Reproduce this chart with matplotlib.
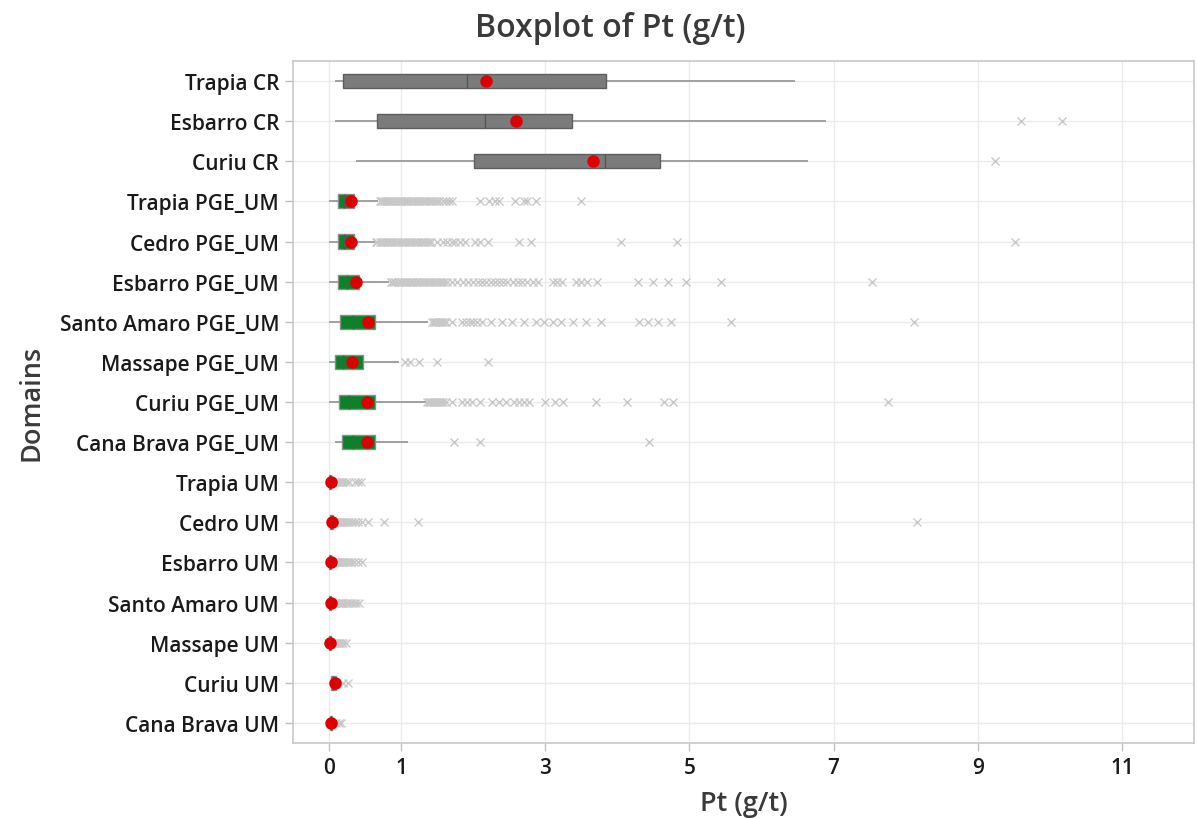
import matplotlib
matplotlib.use("Agg")
import matplotlib.pyplot as plt

plt.rcParams["font.family"] = ["Open Sans", "DejaVu Sans"]

domains = [
    "Trapia CR", "Esbarro CR", "Curiu CR",
    "Trapia PGE_UM", "Cedro PGE_UM", "Esbarro PGE_UM", "Santo Amaro PGE_UM",
    "Massape PGE_UM", "Curiu PGE_UM", "Cana Brava PGE_UM",
    "Trapia UM", "Cedro UM", "Esbarro UM", "Santo Amaro UM",
    "Massape UM", "Curiu UM", "Cana Brava UM",
]

# Five-number summaries and means, Pt (g/t)
whisker_low = [0.10, 0.10, 0.39, 0.01, 0.01, 0.01, 0.01, 0.01, 0.01, 0.09,
               0.00, 0.00, 0.00, 0.00, 0.00, 0.02, 0.00]
q1 = [0.20, 0.67, 2.01, 0.12, 0.13, 0.13, 0.15, 0.08, 0.14, 0.18,
      0.00, 0.01, 0.00, 0.00, 0.00, 0.03, 0.01]
median = [1.91, 2.17, 3.83, 0.21, 0.21, 0.25, 0.33, 0.20, 0.28, 0.33,
          0.01, 0.02, 0.01, 0.01, 0.01, 0.06, 0.02]
q3 = [3.84, 3.37, 4.59, 0.35, 0.34, 0.42, 0.64, 0.47, 0.64, 0.64,
      0.03, 0.05, 0.03, 0.03, 0.02, 0.10, 0.04]
whisker_high = [6.45, 6.88, 6.63, 0.67, 0.62, 0.82, 1.36, 0.96, 1.34, 1.08,
                0.07, 0.09, 0.06, 0.06, 0.05, 0.16, 0.08]
mean = [2.18, 2.60, 3.66, 0.30, 0.31, 0.37, 0.54, 0.32, 0.52, 0.52,
        0.02, 0.04, 0.03, 0.03, 0.01, 0.08, 0.03]

outliers_trapia_cr = []
outliers_esbarro_cr = [9.60, 10.17]
outliers_curiu_cr = [9.24]
outliers_trapia_pge = [0.70, 0.72, 0.74, 0.76, 0.78, 0.80, 0.83, 0.85, 0.88, 0.90,
                       0.93, 0.95, 0.98, 1.00, 1.03, 1.05, 1.08, 1.10, 1.13, 1.15,
                       1.18, 1.20, 1.23, 1.26, 1.29, 1.32, 1.35, 1.38, 1.41, 1.44,
                       1.47, 1.50, 1.53, 1.58, 1.62, 1.66, 1.70, 2.10, 2.22, 2.30,
                       2.36, 2.58, 2.70, 2.74, 2.87, 3.50]
outliers_cedro_pge = [0.65, 0.67, 0.70, 0.72, 0.75, 0.77, 0.80, 0.82, 0.85, 0.88,
                      0.91, 0.94, 0.97, 1.00, 1.03, 1.06, 1.09, 1.12, 1.15, 1.18,
                      1.21, 1.24, 1.27, 1.30, 1.33, 1.36, 1.39, 1.42, 1.50, 1.58,
                      1.64, 1.70, 1.75, 1.82, 1.88, 2.02, 2.10, 2.20, 2.64, 2.80,
                      4.05, 4.83, 9.51]
outliers_esbarro_pge = [0.86, 0.88, 0.90, 0.92, 0.95, 0.97, 1.00, 1.02, 1.05, 1.07,
                        1.10, 1.12, 1.15, 1.17, 1.20, 1.22, 1.25, 1.27, 1.30, 1.33,
                        1.36, 1.39, 1.42, 1.45, 1.48, 1.51, 1.54, 1.57, 1.60, 1.63,
                        1.70, 1.78, 1.86, 1.93, 2.00, 2.06, 2.12, 2.18, 2.25, 2.30,
                        2.36, 2.42, 2.47, 2.55, 2.62, 2.68, 2.75, 2.83, 2.90, 3.10,
                        3.16, 3.23, 3.42, 3.49, 3.58, 3.72, 4.28, 4.50, 4.70, 4.95,
                        5.44, 7.53]
outliers_santo_amaro_pge = [1.43, 1.45, 1.47, 1.49, 1.51, 1.53, 1.55, 1.57, 1.60, 1.62,
                            1.71, 1.85, 1.90, 1.95, 2.00, 2.05, 2.12, 2.24, 2.40, 2.54,
                            2.71, 2.87, 2.98, 3.10, 3.22, 3.38, 3.56, 3.77, 4.30, 4.42,
                            4.56, 4.74, 5.58, 8.12]
outliers_massape_pge = [1.06, 1.12, 1.25, 1.50, 2.20]
outliers_curiu_pge = [1.36, 1.38, 1.40, 1.42, 1.44, 1.46, 1.48, 1.50, 1.52, 1.55,
                      1.58, 1.62, 1.71, 1.85, 1.92, 1.98, 2.10, 2.26, 2.36, 2.45,
                      2.57, 2.64, 2.71, 2.78, 3.00, 3.13, 3.24, 3.70, 4.13, 4.65,
                      4.77, 7.76]
outliers_cana_brava_pge = [1.73, 2.10, 4.44]
outliers_trapia_um = [0.10, 0.12, 0.14, 0.16, 0.18, 0.20, 0.23, 0.27, 0.36, 0.40, 0.44]
outliers_cedro_um = [0.10, 0.12, 0.14, 0.16, 0.18, 0.20, 0.22, 0.25, 0.28, 0.32,
                     0.36, 0.40, 0.46, 0.54, 0.76, 1.23, 8.16]
outliers_esbarro_um = [0.08, 0.10, 0.12, 0.14, 0.16, 0.18, 0.20, 0.22, 0.25, 0.28,
                       0.31, 0.35, 0.40, 0.45]
outliers_santo_amaro_um = [0.08, 0.10, 0.12, 0.14, 0.16, 0.18, 0.20, 0.23, 0.26, 0.30,
                           0.34, 0.38, 0.42]
outliers_massape_um = [0.06, 0.08, 0.10, 0.12, 0.14, 0.17, 0.20, 0.23]
outliers_curiu_um = [0.20, 0.26]
outliers_cana_brava_um = [0.10, 0.14, 0.17]

outliers = [
    outliers_trapia_cr, outliers_esbarro_cr, outliers_curiu_cr,
    outliers_trapia_pge, outliers_cedro_pge, outliers_esbarro_pge,
    outliers_santo_amaro_pge, outliers_massape_pge, outliers_curiu_pge,
    outliers_cana_brava_pge,
    outliers_trapia_um, outliers_cedro_um, outliers_esbarro_um,
    outliers_santo_amaro_um, outliers_massape_um, outliers_curiu_um,
    outliers_cana_brava_um,
]

x_ticks = [0, 1, 3, 5, 7, 9, 11]

stats = []
for i, name in enumerate(domains):
    stats.append(dict(label=name, whislo=whisker_low[i], q1=q1[i], med=median[i],
                      q3=q3[i], whishi=whisker_high[i], mean=mean[i],
                      fliers=outliers[i]))

n = len(domains)
positions = list(range(n, 0, -1))

fig = plt.figure(figsize=(11.97, 8.20), dpi=100)
ax = fig.add_axes([0.2448, 0.0927, 0.7527, 0.8317])

ax.set_axisbelow(True)
ax.grid(True, color="#ebebeb", linewidth=1.0)

art = ax.bxp(
    stats, positions=positions, orientation="horizontal", widths=0.35,
    patch_artist=True, showmeans=True, showcaps=False, showfliers=True,
    boxprops=dict(linewidth=1.0),
    whiskerprops=dict(color="#a0a0a0", linewidth=1.4),
    medianprops=dict(color="#555555", linewidth=1.0),
    meanprops=dict(marker="o", markerfacecolor="#dd0000", markeredgecolor="#dd0000",
                   markersize=8),
    flierprops=dict(marker="x", markeredgecolor="#c8c8c8", markersize=5.5,
                    markeredgewidth=1.0, linestyle="none"),
)

for i, box in enumerate(art["boxes"]):
    if domains[i].endswith(" CR"):
        box.set_facecolor("#7b7b7b")
        box.set_edgecolor("#5e5e5e")
    else:
        box.set_facecolor("#0a8228")
        box.set_edgecolor("#8c8c8c")
    box.set_zorder(3)
for med in art["medians"]:
    med.set_zorder(4)
for m in art["means"]:
    m.set_zorder(6)
for f in art["fliers"]:
    f.set_zorder(2)

ax.set_xlim(-0.5, 12)
ax.set_ylim(0.5, n + 0.5)
ax.set_xticks(x_ticks)
ax.set_xticklabels([str(t) for t in x_ticks])
ax.set_yticks(positions)
ax.set_yticklabels(domains)

for side in ax.spines.values():
    side.set_color("#c8c8c8")
    side.set_linewidth(1.2)

ax.tick_params(axis="both", colors="#c0c0c0", length=6, width=1.0,
               labelcolor="#1a1a1a", labelsize=15, pad=4)
for lbl in ax.get_xticklabels() + ax.get_yticklabels():
    lbl.set_fontweight("semibold")

ax.set_xlabel("Pt (g/t)", fontsize=19.5, fontweight="semibold", color="#3a3a3a",
              labelpad=8)
ax.set_ylabel("Domains", fontsize=19.5, fontweight="semibold", color="#3a3a3a",
              labelpad=10)
fig.suptitle("Boxplot of Pt (g/t)", fontsize=23, fontweight="semibold",
             color="#3a3a3a", x=0.51, y=0.985)

fig.savefig("out.png", dpi=100)
